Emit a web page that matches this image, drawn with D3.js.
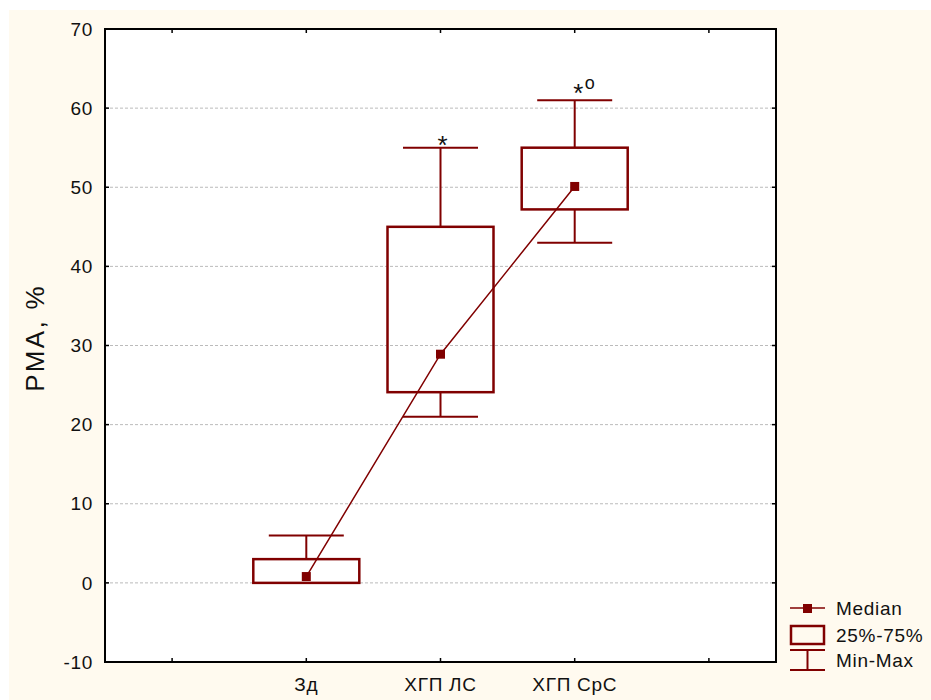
<!DOCTYPE html>
<html>
<head>
<meta charset="utf-8">
<script src="https://cdn.jsdelivr.net/npm/d3@7"></script>
<style>
	body { margin: 0; background: #fff; }
	text { font-family: "Liberation Sans", Arial, sans-serif; fill: #111; letter-spacing: 0.7px; }
</style>
</head>
<body>
<svg id="chart" width="931" height="700"></svg>
<script>
// data
const categories = ["Зд", "ХГП ЛС", "ХГП СрС"];
const mins = [0, 21, 43];
const q1s = [0, 24.1, 47.2];
const medians = [0.8, 28.9, 50.1];
const q3s = [3, 45, 55];
const maxs = [6, 55, 61];
const marks = ["", "*", "*o"];
const yTicks = [-10, 0, 10, 20, 30, 40, 50, 60, 70];

const svg = d3.select("#chart"),
	width = +svg.attr("width"),
	height = +svg.attr("height");

const color = "#800000";
const margin = {left: 105, top: 29, right: 776, bottom: 662};
const fs = 19;

// cream background
svg.append("rect")
	.attr("x", 9).attr("y", 10)
	.attr("width", width - 9).attr("height", height - 10)
	.attr("fill", "#fffaef");

svg.append("rect")
	.attr("x", margin.left).attr("y", margin.top)
	.attr("width", margin.right - margin.left).attr("height", margin.bottom - margin.top)
	.attr("fill", "#fff");

const y = d3.scaleLinear().domain([-10, 70]).range([margin.bottom, margin.top]);
// categories sit at 1,2,3 ; ticks at 0..4
const x = d3.scaleLinear().domain([-0.5, 4.5]).range([margin.left, margin.right]);
const xTicks = [0, 1, 2, 3, 4];

// grid
svg.append("g").selectAll("line")
	.data(yTicks.filter(d => d > -10 && d < 70))
	.enter().append("line")
	.attr("x1", margin.left).attr("x2", margin.right)
	.attr("y1", d => y(d)).attr("y2", d => y(d))
	.attr("stroke", "#bbb")
	.attr("stroke-width", 1)
	.attr("stroke-dasharray", "3,2");

// ticks drawn inward on all four sides
const ticks = svg.append("g").attr("stroke", "#000").attr("stroke-width", 1.5);
yTicks.forEach(v => {
	ticks.append("line").attr("x1", margin.left).attr("x2", margin.left + 4).attr("y1", y(v)).attr("y2", y(v));
	ticks.append("line").attr("x1", margin.right).attr("x2", margin.right - 4).attr("y1", y(v)).attr("y2", y(v));
});
xTicks.forEach(v => {
	ticks.append("line").attr("x1", x(v)).attr("x2", x(v)).attr("y1", margin.bottom).attr("y2", margin.bottom - 4);
	ticks.append("line").attr("x1", x(v)).attr("x2", x(v)).attr("y1", margin.top).attr("y2", margin.top + 4);
});

// frame
svg.append("rect")
	.attr("x", margin.left).attr("y", margin.top)
	.attr("width", margin.right - margin.left).attr("height", margin.bottom - margin.top)
	.attr("fill", "none").attr("stroke", "#000").attr("stroke-width", 2);

// y tick labels
svg.append("g").selectAll("text")
	.data(yTicks)
	.enter().append("text")
	.attr("x", margin.left - 12)
	.attr("y", d => y(d))
	.attr("dy", "0.35em")
	.attr("text-anchor", "end")
	.attr("font-size", fs)
	.text(d => d);

// x labels
svg.append("g").selectAll("text")
	.data(categories)
	.enter().append("text")
	.attr("x", (d, i) => x(i + 1))
	.attr("y", margin.bottom + 29)
	.attr("text-anchor", "middle")
	.attr("font-size", fs)
	.text(d => d);

// y title
svg.append("text")
	.attr("transform", "translate(44, 338) rotate(-90)")
	.attr("text-anchor", "middle")
	.attr("font-size", 26)
	.style("letter-spacing", "2.3px")
	.text("PMA, %");

const boxW = 106, capW = 75;
const boxes = svg.append("g");

categories.forEach((c, i) => {
	const cx = x(i + 1);
	const g = boxes.append("g");
	// whiskers
	g.append("line").attr("x1", cx).attr("x2", cx).attr("y1", y(maxs[i])).attr("y2", y(q3s[i]))
		.attr("stroke", color).attr("stroke-width", 2);
	g.append("line").attr("x1", cx).attr("x2", cx).attr("y1", y(mins[i])).attr("y2", y(q1s[i]))
		.attr("stroke", color).attr("stroke-width", 2);
	g.append("line").attr("x1", cx - capW / 2).attr("x2", cx + capW / 2).attr("y1", y(maxs[i])).attr("y2", y(maxs[i]))
		.attr("stroke", color).attr("stroke-width", 2);
	g.append("line").attr("x1", cx - capW / 2).attr("x2", cx + capW / 2).attr("y1", y(mins[i])).attr("y2", y(mins[i]))
		.attr("stroke", color).attr("stroke-width", 2).attr("stroke-opacity", i === 0 ? 0.35 : 1);
	// box
	g.append("rect")
		.attr("x", cx - boxW / 2).attr("y", y(q3s[i]))
		.attr("width", boxW).attr("height", y(q1s[i]) - y(q3s[i]))
		.attr("fill", "none").attr("stroke", color).attr("stroke-width", 2.5);
	// significance marks
	if (marks[i] === "*") {
		g.append("text")
			.attr("x", cx + 2.5).attr("y", y(maxs[i]) + 6)
			.attr("text-anchor", "middle")
			.attr("font-size", 26)
			.text("*");
	} else if (marks[i] === "*o") {
		g.append("text")
			.attr("x", cx + 4).attr("y", y(maxs[i]) + 2)
			.attr("text-anchor", "middle")
			.attr("font-size", 26)
			.text("*");
		g.append("text")
			.attr("x", cx + 10).attr("y", y(maxs[i]) - 11)
			.attr("font-size", 18)
			.text("o");
	}
});

// median line and markers
const line = d3.line().x((d, i) => x(i + 1)).y(d => y(d));
svg.append("path")
	.datum(medians)
	.attr("d", line)
	.attr("fill", "none")
	.attr("stroke", color)
	.attr("stroke-width", 1.5);

svg.append("g").selectAll("rect")
	.data(medians)
	.enter().append("rect")
	.attr("x", (d, i) => x(i + 1) - 4.5)
	.attr("y", d => y(d) - 4.5)
	.attr("width", 9).attr("height", 9)
	.attr("fill", color);

// legend
const lg = svg.append("g").attr("transform", "translate(790, 608)");
lg.append("line").attr("x1", 0).attr("x2", 35).attr("y1", 0).attr("y2", 0).attr("stroke", color).attr("stroke-width", 1.5);
lg.append("rect").attr("x", 13).attr("y", -4).attr("width", 9).attr("height", 9).attr("fill", color);
lg.append("text").attr("x", 46).attr("y", 0).attr("dy", "0.35em").attr("font-size", fs).text("Median");

lg.append("rect").attr("x", 1).attr("y", 18).attr("width", 33).attr("height", 18)
	.attr("fill", "none").attr("stroke", color).attr("stroke-width", 2.5);
lg.append("text").attr("x", 46).attr("y", 27).attr("dy", "0.35em").attr("font-size", fs).text("25%-75%");

lg.append("line").attr("x1", 0).attr("x2", 35).attr("y1", 42).attr("y2", 42).attr("stroke", color).attr("stroke-width", 2);
lg.append("line").attr("x1", 0).attr("x2", 35).attr("y1", 62).attr("y2", 62).attr("stroke", color).attr("stroke-width", 2);
lg.append("line").attr("x1", 17.5).attr("x2", 17.5).attr("y1", 42).attr("y2", 62).attr("stroke", color).attr("stroke-width", 2);
lg.append("text").attr("x", 46).attr("y", 52).attr("dy", "0.35em").attr("font-size", fs).text("Min-Max");
</script>
</body>
</html>
